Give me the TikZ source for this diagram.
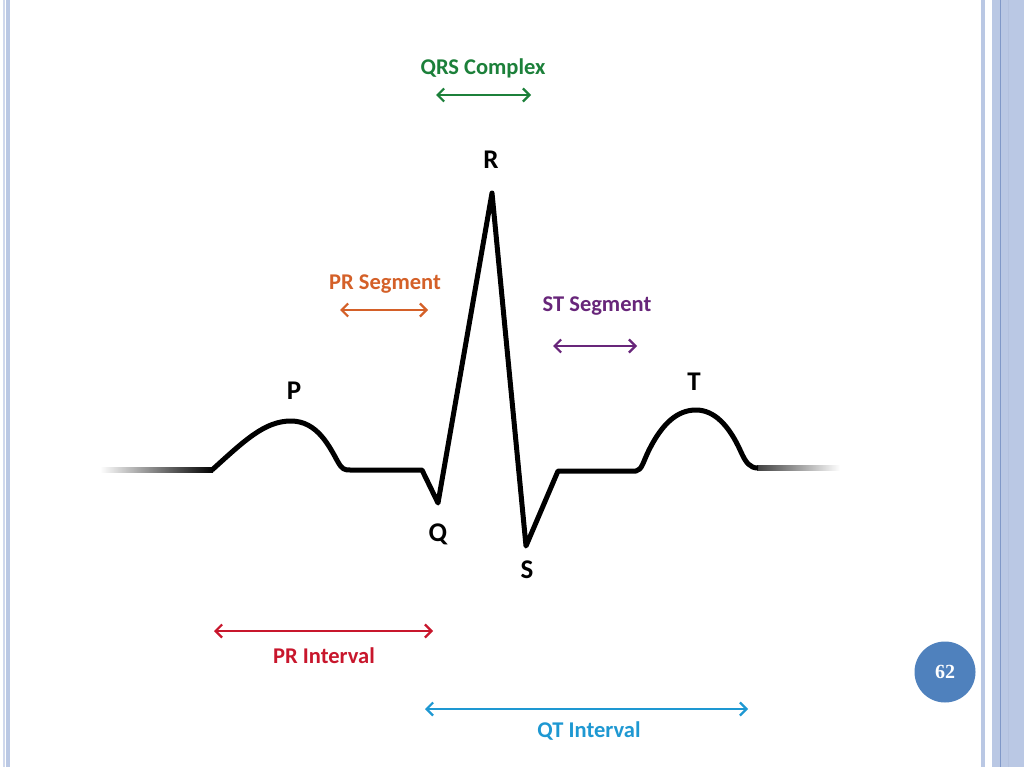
\documentclass[tikz,border=0pt]{standalone}
\usepackage{fontspec}
\setmainfont{Carlito}
\newfontfamily\pagenumfont{Liberation Serif}
\usetikzlibrary{arrows.meta}

\definecolor{qrsgreen}{RGB}{28,128,58}
\definecolor{prorange}{RGB}{212,96,40}
\definecolor{stpurple}{RGB}{104,38,122}
\definecolor{prred}{RGB}{200,22,44}
\definecolor{qtblue}{RGB}{30,152,210}
\definecolor{slideblue}{RGB}{79,129,189}
\definecolor{stripe}{RGB}{186,200,228}
\definecolor{stripedark}{RGB}{128,152,200}

\begin{document}
\begin{tikzpicture}[x=1pt, y=-1pt, line join=round,
    wave/.style={line width=5pt, black},
    spanarrow/.style={line width=2.2pt, {Straight Barb[length=6.5pt,width=13pt]}-{Straight Barb[length=6.5pt,width=13pt]}},
    lbl/.style={font=\fontsize{22.5}{27}\selectfont\bfseries, anchor=base},
    peak/.style={font=\fontsize{27}{31}\selectfont\bfseries, anchor=base}]
    % Units are pixels of the slide, y grows downwards
    \useasboundingbox (0,0) rectangle (1024,767);
    \fill[white] (0,0) rectangle (1024,767);

    % --- SLIDE BORDERS ---
    \fill[stripe!70] (3,0) rectangle (4.5,767);
    \fill[stripe] (6,0) rectangle (9.5,767);
    \fill[stripe] (981,0) rectangle (985,767);
    \fill[stripe] (992,0) rectangle (1024,767);
    \fill[stripedark] (1000,0) rectangle (1001.3,767);
    \fill[stripedark!60] (1008,0) rectangle (1009,767);

    % --- WAVEFORM POINTS ---
    \coordinate (P_on) at (212,470);
    \coordinate (P_pk) at (291,421);
    \coordinate (P_off) at (350,470);
    \coordinate (Q_on) at (422,470);
    \coordinate (Q_pk) at (438,503);
    \coordinate (R_pk) at (492,193);
    \coordinate (S_pk) at (526,546);
    \coordinate (S_off) at (558,471);
    \coordinate (T_on) at (636,471);
    \coordinate (T_pk) at (696,410);
    \coordinate (T_off) at (758,468);

    % faded baseline ends
    \shade[left color=white, right color=black] (100,467.5) rectangle (213,472.5);
    \shade[left color=black!75, right color=white] (757,465.5) rectangle (840,470.5);

    % P wave, QRS complex, T wave
    \draw[wave] (P_on) .. controls (245,440) and (265,421) .. (P_pk)
        .. controls (318,421) and (330,448) .. (338,462)
        .. controls (342,469) and (344,470) .. (P_off)
        -- (Q_on) -- (Q_pk) -- (R_pk) -- (S_pk) -- (S_off) -- (T_on)
        .. controls (642,470) and (643,462) .. (649,450)
        .. controls (662,424) and (677,410) .. (T_pk)
        .. controls (714,410) and (729,425) .. (741,452)
        .. controls (746,463) and (750,468) .. (T_off);

    % --- WAVE LABELS ---
    \foreach \wname/\wx/\wy in {P/294/399, R/491/169, Q/438/541, S/527/578, T/694/390}
        \node[peak] (lbl\wname) at (\wx,\wy) {\wname};

    % --- SEGMENTS AND INTERVALS ---
    \node[lbl, qrsgreen] (QRS_txt) at (483,75) {QRS Complex};
    \coordinate (QRS_l) at (436,95);
    \coordinate (QRS_r) at (531,95);
    \draw[spanarrow, qrsgreen] (QRS_l) -- (QRS_r);

    \node[lbl, prorange] (PRseg_txt) at (385,289) {PR Segment};
    \coordinate (PRseg_l) at (340,310);
    \coordinate (PRseg_r) at (428,310);
    \draw[spanarrow, prorange] (PRseg_l) -- (PRseg_r);

    \node[lbl, stpurple] (STseg_txt) at (597,311) {ST Segment};
    \coordinate (STseg_l) at (553,346);
    \coordinate (STseg_r) at (637,346);
    \draw[spanarrow, stpurple] (STseg_l) -- (STseg_r);

    \coordinate (PRint_l) at (214,631);
    \coordinate (PRint_r) at (433,631);
    \draw[spanarrow, prred] (PRint_l) -- (PRint_r);
    \node[lbl, prred] (PRint_txt) at (324,663) {PR Interval};

    \coordinate (QTint_l) at (425,709);
    \coordinate (QTint_r) at (748,709);
    \draw[spanarrow, qtblue] (QTint_l) -- (QTint_r);
    \node[lbl, qtblue] (QTint_txt) at (589,737) {QT Interval};

    % --- PAGE NUMBER ---
    \node[circle, fill=slideblue, minimum size=61pt, inner sep=0pt, text=white,
        font=\pagenumfont\bfseries\fontsize{20}{24}\selectfont] (pagenum) at (945,672) {62};
\end{tikzpicture}
\end{document}
